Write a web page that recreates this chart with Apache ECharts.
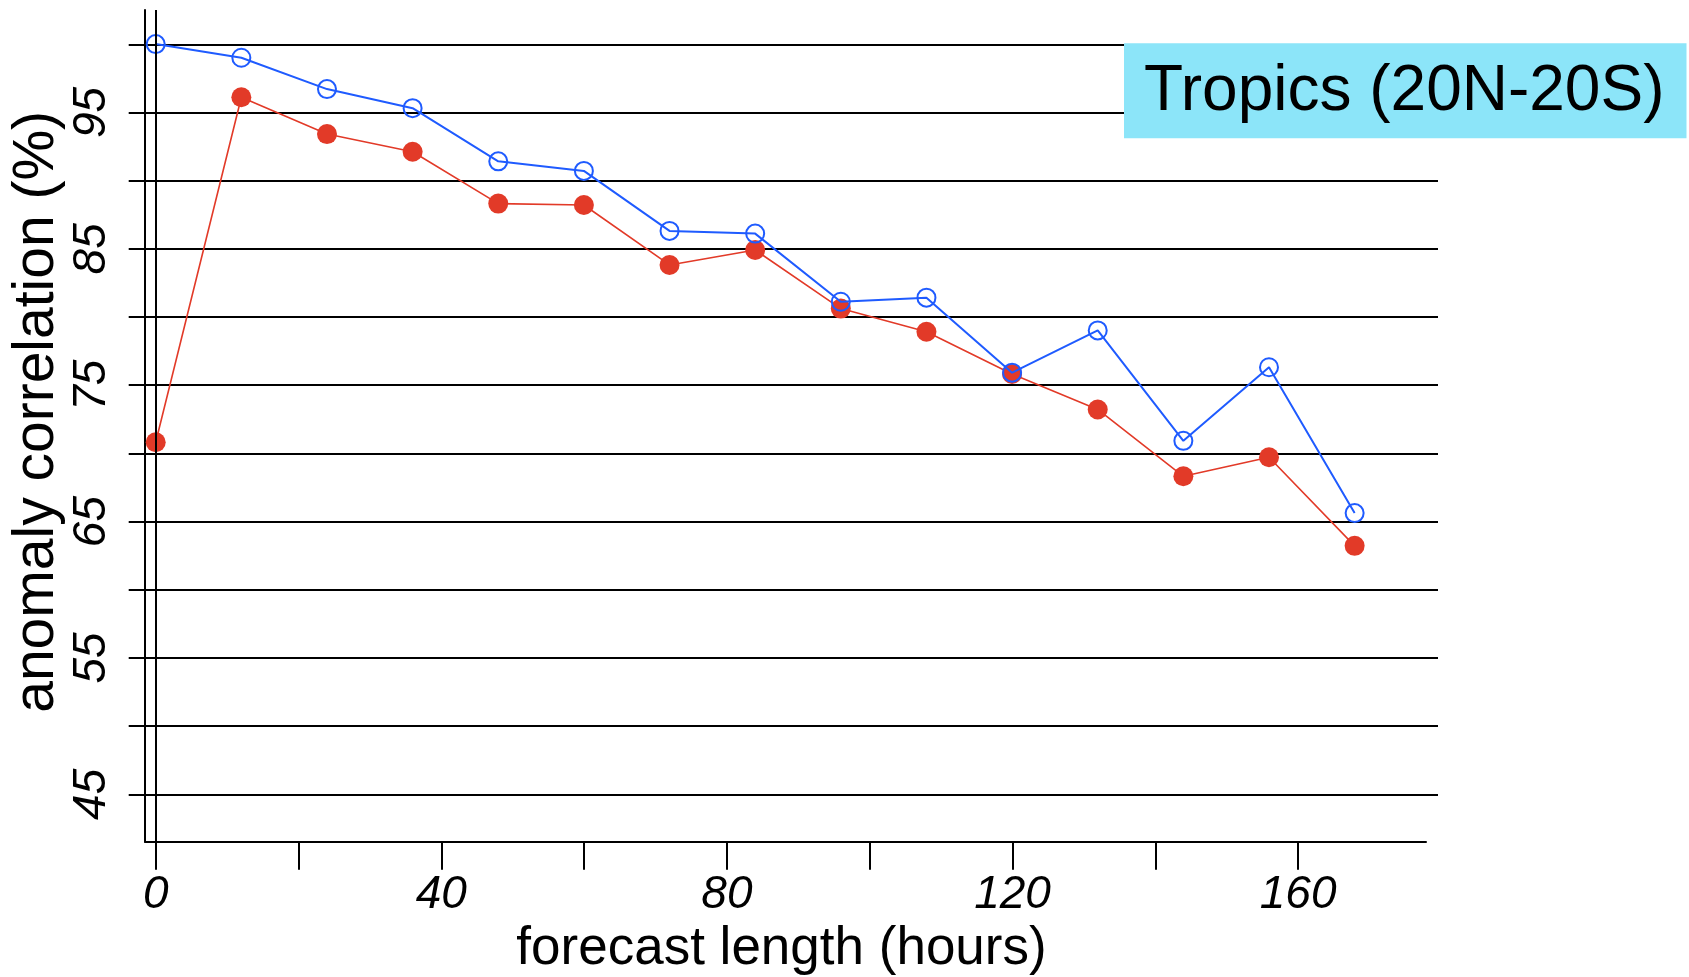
<!DOCTYPE html>
<html>
<head>
<meta charset="utf-8">
<title>Anomaly correlation – Tropics</title>
<script src="https://cdn.jsdelivr.net/npm/echarts@6/dist/echarts.min.js"></script>
<style>
  html, body { margin: 0; padding: 0; background: #ffffff; }
  #chart { width: 1689px; height: 977px; }
</style>
</head>
<body>
<div id="chart"></div>
<script>
// Forecast lead times (hours)
const forecastHours = [0, 12, 24, 36, 48, 60, 72, 84, 96, 108, 120, 132, 144, 156, 168];

// Anomaly correlation (%) – hollow blue markers
const acBlue = [100.0, 99.0, 96.7, 95.3, 91.4, 90.7, 86.3, 86.1, 81.1, 81.4, 75.9, 79.0, 70.9, 76.3, 65.6];

// Anomaly correlation (%) – filled red markers
const acRed = [70.8, 96.1, 93.4, 92.1, 88.3, 88.2, 83.8, 84.9, 80.6, 78.9, 75.8, 73.2, 68.3, 69.7, 63.2];

// Labelled tick values
const yLabelValues = [45, 55, 65, 75, 85, 95];
const xLabelValues = [0, 40, 80, 120, 160];

const regionTitle = 'Tropics (20N-20S)';

const FONT = '"Liberation Sans", Arial, Helvetica, sans-serif';
const BLUE = '#1f5bff';
const RED = '#e23a28';
const INK = '#000000';

const chart = echarts.init(document.getElementById('chart'), null, { renderer: 'canvas' });

const toPairs = (xs, ys) => xs.map((x, i) => [x, ys[i]]);

const option = {
  animation: false,
  backgroundColor: '#ffffff',
  grid: [
    // data area with the frame axes
    { left: 145, top: 10, width: 1281, height: 831.7, containLabel: false, outerBoundsMode: 'none' },
    // horizontal rules and y ticks (45..100)
    { left: 155.7, top: 44.3, width: 1282.3, height: 750, containLabel: false, outerBoundsMode: 'none' },
    // x ticks (0..160)
    { left: 155.7, top: 10, width: 1142.4, height: 831.7, containLabel: false, outerBoundsMode: 'none' }
  ],
  xAxis: [
    {
      gridIndex: 0, type: 'value', min: -1.5, max: 178,
      axisLine: { show: true, onZero: false, lineStyle: { color: INK, width: 2 } },
      axisTick: { show: false }, axisLabel: { show: false }, splitLine: { show: false },
      name: 'forecast length (hours)', nameLocation: 'middle', nameGap: 81.4,
      nameTextStyle: { fontFamily: FONT, fontSize: 53, color: INK, padding: [0, 8, 0, 0] }
    },
    { gridIndex: 1, type: 'value', show: false, min: 0, max: 1 },
    {
      gridIndex: 2, type: 'value', min: 0, max: 160, interval: 20,
      axisLine: { show: false },
      axisTick: { show: true, inside: false, length: 28, lineStyle: { color: INK, width: 2 } },
      axisLabel: {
        show: true, margin: 30.3, fontFamily: FONT, fontSize: 46, fontStyle: 'italic', color: INK,
        formatter: v => (xLabelValues.includes(v) ? String(v) : '')
      },
      splitLine: { show: false }
    }
  ],
  yAxis: [
    {
      gridIndex: 0, type: 'value', min: 41.5, max: 102.5,
      axisLine: { show: true, onZero: false, lineStyle: { color: INK, width: 2 } },
      axisTick: { show: false }, axisLabel: { show: false }, splitLine: { show: false },
      name: 'anomaly correlation (%)', nameLocation: 'middle', nameGap: 79.5,
      nameTextStyle: { fontFamily: FONT, fontSize: 57, color: INK, padding: [0, 0, 0, 28] }
    },
    {
      gridIndex: 1, type: 'value', min: 45, max: 100, interval: 5, offset: 10.7,
      axisLine: { show: false },
      axisTick: { show: true, inside: false, length: 27, lineStyle: { color: INK, width: 2 } },
      axisLabel: {
        show: true, rotate: 90, margin: 30, fontFamily: FONT, fontSize: 46, fontStyle: 'italic', color: INK,
        formatter: v => (yLabelValues.includes(v) ? String(v) : '')
      },
      splitLine: { show: true, lineStyle: { color: INK, width: 2 } }
    },
    { gridIndex: 2, type: 'value', show: false, min: 0, max: 1 }
  ],
  series: [
    {
      name: 'filled', type: 'line', xAxisIndex: 0, yAxisIndex: 0,
      data: toPairs(forecastHours, acRed),
      symbol: 'circle', symbolSize: 20,
      itemStyle: { color: RED },
      lineStyle: { color: RED, width: 1.6 },
      emphasis: { disabled: true },
      z: 3,
      markLine: {
        silent: true, symbol: 'none', animation: false,
        label: { show: false },
        lineStyle: { color: INK, width: 2, type: 'solid' },
        data: [{ xAxis: 0 }]
      }
    },
    {
      name: 'hollow', type: 'line', xAxisIndex: 0, yAxisIndex: 0,
      data: toPairs(forecastHours, acBlue),
      symbol: 'circle', symbolSize: 18,
      itemStyle: { color: 'rgba(0,0,0,0)', borderColor: BLUE, borderWidth: 2 },
      lineStyle: { color: BLUE, width: 2 },
      emphasis: { disabled: true },
      z: 4
    }
  ],
  graphic: [
    { type: 'rect', z: 100, shape: { x: 1124, y: 43.3, width: 562.5, height: 95 }, style: { fill: '#8ce5f9' } },
    {
      type: 'text', z: 101, x: 1144, y: 92.8,
      style: { text: regionTitle, fontFamily: FONT, fontSize: 64, fill: INK, align: 'left', verticalAlign: 'middle' }
    }
  ]
};

chart.setOption(option);
</script>
</body>
</html>
